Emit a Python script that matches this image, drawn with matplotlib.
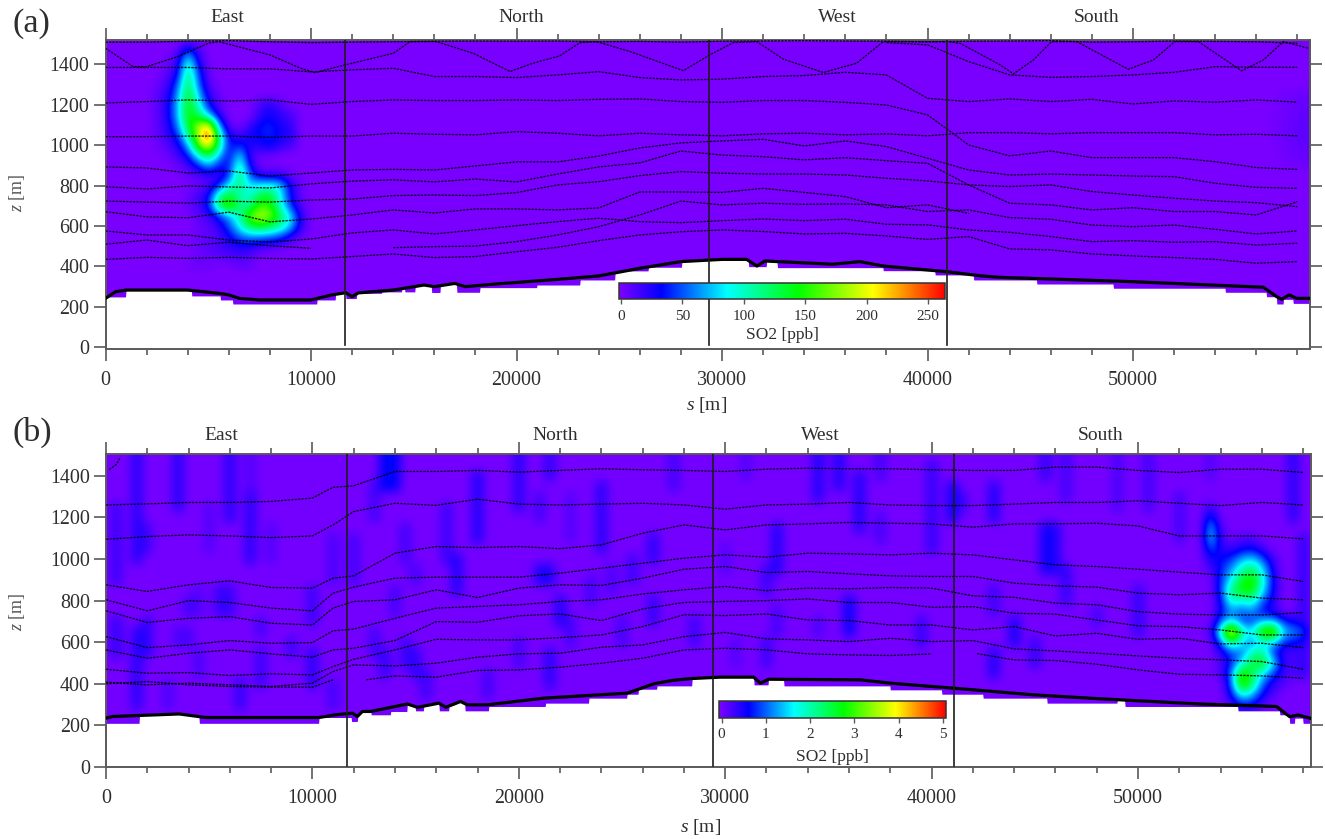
import numpy as np
import matplotlib
matplotlib.use("Agg")
import matplotlib.pyplot as plt
from matplotlib.colors import LinearSegmentedColormap, Normalize
from matplotlib.cm import ScalarMappable
from matplotlib.ticker import MultipleLocator

plt.rcParams['font.family'] = ['Liberation Serif', 'DejaVu Serif']
plt.rcParams['mathtext.fontset'] = 'custom'
plt.rcParams['mathtext.it'] = 'Liberation Serif:italic'
plt.rcParams['mathtext.rm'] = 'Liberation Serif'

W, H = 1325, 839
nan = float('nan')

section_names = ['East', 'North', 'West', 'South']
a_section_label_s = [5910, 20220, 35600, 48250]
b_section_label_s = [5570, 21750, 34590, 48200]
a_section_bounds = [11660, 29370, 40950]
b_section_bounds = [11660, 29400, 41080]

# ---------- panel (a) terrain ----------
a_ter_s = [0, 500, 1000, 4000, 5500, 6000, 6500, 7500, 10000, 11000, 11700, 12000, 12300, 14000, 15500, 16000,
           17000, 17500, 19000, 22000, 24000, 26000, 28000, 30000, 31200, 31700, 32090, 35400, 36700, 37850,
           40930, 42550, 43500, 49850, 56340, 57000, 57230, 57600, 57960, 58600]
a_ter_z = [241, 274, 282, 282, 266, 258, 241, 233, 233, 258, 269, 249, 268, 282, 307, 299,
           315, 299, 312, 335, 352, 390, 423, 434, 434, 401, 426, 410, 423, 401,
           373, 353, 345, 324, 296, 249, 236, 258, 241, 241]
a_step_s = [0, 1000, 4200, 5600, 6200, 10300, 11200, 11700, 12220, 13440, 14410, 14575, 15060, 15870, 16280, 17090,
            18220, 20980, 23090, 24790, 26410, 28030, 31280, 32170, 32690, 37850, 40365, 42230, 45310, 49040,
            54480, 56500, 56990, 57310, 57800]
a_step_z = [248, 300, 253, 233, 213, 233, 270, 240, 266, 273, 320, 273, 320, 270, 320, 271,
            294, 307, 332, 377, 395, 440, 398, 440, 393, 378, 357, 332, 312, 291,
            271, 249, 213, 236, 216]

# ---------- panel (a) plume block (ppb) ----------
a_block_s = [2500, 3000, 3500, 4000, 4500, 5000, 5500, 6000, 6500, 7000, 7500, 8000, 8500, 9000, 9500]
a_block_z = [1500, 1450, 1400, 1350, 1300, 1250, 1200, 1150, 1100, 1050, 1000, 950, 900, 850, 800, 750, 700, 650,
             600, 550, 500, 450, 400]
a_block_v = [
    [0, 0, 0, 15, 5, 0, 0, 0, 0, 0, 0, 0, 0, 0, 0],
    [0, 0, 10, 70, 15, 0, 0, 0, 0, 0, 0, 0, 0, 0, 0],
    [0, 5, 20, 110, 30, 0, 0, 0, 0, 0, 0, 0, 0, 0, 0],
    [0, 8, 30, 125, 45, 5, 0, 0, 0, 0, 0, 0, 0, 0, 0],
    [5, 15, 50, 135, 55, 10, 0, 0, 0, 0, 0, 0, 0, 0, 0],
    [8, 20, 65, 145, 75, 20, 5, 0, 0, 0, 0, 0, 0, 0, 0],
    [8, 25, 72, 150, 95, 35, 8, 0, 0, 0, 15, 25, 10, 0, 0],
    [8, 25, 72, 150, 125, 70, 20, 0, 0, 0, 20, 30, 20, 15, 0],
    [8, 22, 60, 140, 175, 215, 60, 5, 0, 15, 35, 40, 25, 20, 0],
    [6, 18, 40, 110, 190, 265, 110, 25, 15, 30, 35, 40, 30, 25, 0],
    [4, 10, 25, 70, 165, 215, 115, 30, 40, 25, 25, 35, 20, 15, 0],
    [0, 5, 15, 35, 95, 130, 75, 25, 85, 15, 5, 5, 0, 0, 0],
    [0, 0, 5, 15, 40, 70, 35, 35, 110, 30, 0, 0, 0, 0, 0],
    [0, 0, 0, 5, 10, 15, 15, 40, 130, 50, 20, 20, 20, 5, 0],
    [0, 0, 0, 0, 5, 10, 40, 90, 120, 80, 90, 90, 80, 25, 5],
    [0, 0, 0, 5, 15, 30, 110, 140, 100, 95, 130, 140, 85, 30, 5],
    [0, 0, 0, 5, 15, 35, 130, 175, 115, 110, 160, 150, 95, 40, 8],
    [0, 0, 0, 0, 8, 15, 40, 70, 100, 170, 190, 175, 125, 80, 20],
    [0, 0, 0, 0, 5, 8, 20, 50, 90, 130, 145, 130, 110, 75, 20],
    [0, 0, 0, 0, 5, 8, 12, 30, 55, 65, 65, 60, 50, 25, 5],
    [0, 0, 0, 0, 5, 10, 15, 20, 25, 25, 15, 10, 5, 0, 0],
    [0, 0, 0, 0, 5, 5, 8, 12, 15, 10, 0, 0, 0, 0, 0],
    [0, 0, 0, 3, 5, 3, 0, 0, 5, 5, 0, 0, 0, 0, 0],
]
a_edge_s = [56500, 57000, 57500, 58000, 58500]
a_edge_z = [1250, 1200, 1150, 1100, 1050, 1000, 950, 900]
a_edge_v = [
    [0, 2, 3, 4, 5], [0, 2, 3, 5, 7], [1, 2, 4, 6, 8], [1, 3, 4, 7, 9],
    [1, 3, 5, 7, 9], [0, 2, 4, 6, 8], [0, 1, 3, 5, 6], [0, 1, 2, 3, 4],
]

# ---------- panel (a) dashed profiles ----------
node_a = list(range(0, 58001, 2000))
a_top = [1510, 1510, 1515, 1518, 1512, 1508, 1510, 1512, 1515, 1516, 1515, 1516, 1512, 1514, 1510, 1515, 1516, 1518,
         1516, 1515, 1512, 1515, 1516, 1518, 1510, 1512, 1516, 1514, 1512, 1505]
a_l1 = [1385, 1385, 1385, 1378, 1378, 1363, 1373, 1381, 1340, 1340, 1335, 1348, 1364, 1335, 1323, 1327, 1340, 1345,
        1361, 1348, 1232, 1216, 1229, 1216, 1227, 1204, 1219, 1213, 1224, 1213]
a_l2 = [1209, 1216, 1224, 1219, 1224, 1202, 1216, 1224, 1221, 1221, 1224, 1221, 1227, 1229, 1216, 1212, 1221, 1221,
        1212, 1199, 1150, 1001, 947, 971, 938, 938, 938, 918, 889, 880]
a_l3 = [1042, 1042, 1045, 1045, 1039, 1045, 1045, 1059, 1054, 1051, 1067, 1059, 1046, 1059, 1051, 1046, 1056, 1059,
        1051, 1056, 1046, 1062, 1062, 1056, 1062, 1062, 1062, 1051, 1054, 1046]
a_l4 = [892, 887, 862, 872, 847, 862, 877, 880, 877, 897, 917, 917, 946, 986, 1011, 1021, 1029, 996,
        1021, 993, 935, 877, 852, 857, 852, 847, 844, 811, 791, 786]
a_l5 = [794, 783, 798, 793, 788, 808, 822, 828, 818, 832, 818, 857, 892, 912, 971, 951, 943, 927,
        938, 923, 910, 803, 712, 704, 679, 690, 671, 671, 654, 720]
a_l6 = [723, 718, 713, 722, 718, 728, 733, 750, 753, 750, 765, 803, 819, 849, 869, 861, 857, 857,
        852, 836, 823, 803, 795, 803, 770, 753, 737, 723, 715, 695]
a_l7 = [670, 645, 640, 668, 620, 634, 654, 679, 664, 684, 684, 679, 689, 768, 768, 766, 786, 766,
        745, 690, 704, 662, nan, nan, nan, nan, nan, nan, nan, nan]
a_l8 = [509, 530, 502, 519, 502, 489, nan, 492, 497, 500, 522, 555, 596, 654, 723, 704, 712, 707,
        709, 704, 671, 679, 641, 633, 604, 596, 604, 583, 560, 575]
a_l9 = [575, 555, 555, 530, 520, 535, 565, 580, 560, 580, 601, 621, 638, 621, 616, 626, 634, 626,
        633, 608, 605, 580, 568, 547, 522, 527, 519, 522, 505, 514]
a_l10 = [434, 444, 439, 444, 439, 436, 448, 461, 443, 448, 472, 494, 527, 555, 571, 580, 572, 560,
         563, 550, 533, 547, 486, 481, 461, 451, 443, 434, 415, 423]
a_r1 = [nan] * 19 + [1508, 1497, 1414, 1348, 1336, 1340, 1348, 1361, 1389, 1386, 1386]
a_v_s = [0, 1350, 2000, 3500, 5000, 5500, 8000, 9500, 10200, 11000, 12000, 14000, 14820, 16100, 17900, 19680, 20800,
         22100, 23090, 23900, 25520, 28120, 29400, 30550, 31690, 32985, 34930, 36550, 37850, 40930, 41580, 43530,
         44180, 45150, 46040, 47260, 49770, 50990, 52040, 53180, 55290, 56340, 57320, 58530]
a_v_z = [1480, 1389, 1389, 1438, 1505, 1513, 1447, 1381, 1359, 1381, 1406, 1455, 1513, 1513, 1455, 1365, 1406,
         1442, 1508, 1513, 1464, 1369, 1447, 1508, 1513, 1426, 1360, 1406, 1513, 1513, 1505, 1398,
         1353, 1422, 1513, 1513, 1376, 1422, 1513, 1513, 1368, 1422, 1513, 1480]

# ---------- panel (b) terrain ----------
b_ter_s = [0, 320, 3550, 4840, 10320, 11130, 11940, 12180, 12420, 12827, 14600, 15090, 16130, 16460, 17180, 17500,
           18470, 21200, 25250, 26540, 27420, 28310, 29760, 31380, 31700, 32100, 36540, 38000, 41060, 44930, 48150,
           53000, 56710, 57350, 57760, 58360]
b_ter_z = [235, 243, 255, 238, 238, 251, 259, 243, 267, 267, 303, 287, 307, 287, 315, 299,
           299, 331, 355, 400, 416, 425, 432, 432, 403, 422, 419, 403, 379, 347, 328,
           303, 291, 242, 250, 234]
b_step_s = [0, 1613, 4516, 10320, 11900, 12200, 12827, 13800, 14600, 15000, 15400, 16130, 16620, 17400, 18550, 21300,
            23400, 25250, 25800, 26700, 28400, 31380, 32100, 32830, 38000, 40500, 42500, 45600, 49000, 49370, 54850,
            56870, 57350, 57600, 58000]
b_step_z = [210, 280, 210, 238, 219, 280, 251, 267, 320, 270, 320, 270, 320, 270, 291, 307,
            331, 350, 374, 390, 440, 395, 440, 390, 371, 350, 331, 307, 320, 291, 270,
            251, 210, 235, 210]

# ---------- panel (b) hot block (ppb) ----------
b_block_s = [53000, 53500, 54000, 54500, 55000, 55500, 56000, 56500, 57000, 57500, 58000]
b_block_z = [1250, 1200, 1150, 1100, 1050, 1000, 950, 900, 850, 800, 750, 700, 650, 600, 550, 500, 450, 400, 350, 300]
b_block_v = [
    [0, .3, 0, 0, 0, 0, 0, 0, 0, 0, 0],
    [0, .9, 0, 0, 0, 0, 0, 0, 0, 0, 0],
    [0, 1.4, .2, 0, 0, 0, 0, 0, 0, 0, 0],
    [0, 1.5, .3, 0, .2, .2, 0, 0, 0, 0, 0],
    [0, 1.0, .4, .3, .5, .6, .3, 0, 0, 0, 0],
    [0, .5, .6, .8, 1.3, 1.5, 1.0, .3, 0, 0, 0],
    [0, .2, .7, 1.2, 2.0, 2.4, 1.6, .5, 0, 0, 0],
    [0, 0, .8, 1.6, 2.6, 3.0, 1.9, .6, 0, 0, 0],
    [0, 0, .8, 2.3, 2.8, 2.9, 1.6, .6, 0, 0, 0],
    [0, 0, .6, 2.0, 1.7, 2.0, 1.0, .5, 0, 0, 0],
    [0, 0, .5, 1.2, .9, 1.2, .6, .4, 0, 0, 0],
    [0, 0, 1.0, 1.6, .9, .8, 1.3, 1.4, .8, .5, .3],
    [0, .2, 1.9, 4.7, 2.1, 1.6, 3.3, 3.8, 1.5, 1.2, .9],
    [0, 0, 1.0, 2.4, 1.6, 1.0, 1.6, 1.5, .8, .6, .5],
    [0, 0, .3, .9, 1.0, 2.0, 2.2, .8, .3, .2, .2],
    [0, 0, .2, .7, 1.6, 2.5, 2.8, 1.7, .4, .2, 0],
    [0, 0, .2, 1.0, 3.2, 2.4, 1.6, .9, .3, .2, 0],
    [0, 0, 0, .9, 3.3, 2.4, 1.0, .4, .2, 0, 0],
    [0, 0, 0, .6, 1.8, 1.4, .6, .2, 0, 0, 0],
    [0, 0, 0, .2, .7, .6, .2, 0, 0, 0, 0],
]

# ---------- panel (b) faint vertical streaks ----------
streak_s = [1500, 2000, 300, 300, 3700, 5900, 7000, 7000, 4850, 7750, 11100, 11900, 12900, 1400, 1900, 3900, 5500,
            6050, 4600, 3300, 3150, 4100, 4700, 8870, 9840, 10000, 7500, 6600, 11050, 7340,
            13500, 14000, 18150, 16600, 17200, 14600, 15200, 14200, 19900, 20800, 21500, 21150, 21650, 22100, 22700,
            23800, 22350, 26600, 25650, 24600, 26600, 23500, 25100, 28400, 27500, 13630, 15150, 14280, 15500, 18300,
            21500, 19900, 13150,
            32430, 32100, 34600, 35570, 36620, 37350, 39770, 41140, 41640, 42830, 42830, 45330, 45830, 46400, 36000,
            34360, 32670, 43960, 45010, 43000, 39600, 32030, 30650, 29930, 45730, 46620, 37670, 31220, 47830,
            50180, 49130, 50660, 52110, 57600, 58240, 53480]
streak_lo = [1000, 1050, 880, 560, 1250, 1220, 1010, 1280, 1060, 1010, 880, 920, 1200, 300, 560, 755, 755,
             755, 770, 580, 275, 580, 435, 530, 675, 420, 400, 290, 275, 660,
             1350, 1350, 1110, 980, 870, 1010, 890, 770, 1250, 1190, 1400, 920, 920, 675, 610,
             1030, 1120, 980, 900, 835, 690, 820, 610, 610, 1365, 470, 470, 500, 340, 355,
             400, 515, 560,
             965, 850, 1315, 1365, 1170, 1125, 1030, 1220, 1240, 1190, 770, 930, 950, 820, 630,
             630, 645, 580, 490, 435, 580, 490, 500, 965, 1410, 1320, 1400, 1410, 720,
             660, 1250, 1270, 1090, 1220, 450, 1380]
streak_hi = [1490, 1160, 1240, 720, 1490, 1490, 1280, 1490, 1270, 1150, 1080, 1120, 1360, 660, 675, 820, 850,
             850, 840, 640, 390, 640, 545, 625, 850, 565, 530, 400, 400, 710,
             1490, 1490, 1400, 1250, 1010, 1140, 955, 850, 1490, 1320, 1490, 960, 960, 800, 705,
             1330, 1280, 1125, 1010, 930, 800, 880, 705, 705, 1490, 545, 545, 595, 435, 465,
             530, 580, 660,
             1170, 965, 1490, 1490, 1380, 1220, 1445, 1350, 1320, 1365, 870, 1160, 1140, 930, 820,
             725, 740, 705, 595, 545, 675, 580, 595, 1060, 1490, 1490, 1490, 1490, 770,
             870, 1490, 1490, 1300, 1490, 1090, 1490]
streak_v = [.45, .3, .35, .4, .45, .45, .45, .2, .2, .2, .25, .3, .3, .45, .4, .3, .35,
            .35, .2, .25, .25, .25, .25, .35, .35, .45, .35, .4, .3, .3,
            .65, .65, .5, .35, .5, .3, .3, .3, .45, .3, .4, .5, .5, .5, .3,
            .45, .2, .45, .35, .25, .4, .3, .3, .35, .3, .4, .4, .35, .35, .3,
            .45, .3, .3,
            .5, .35, .5, .5, .5, .3, .4, .6, .3, .5, .35, .6, .45, .4, .65,
            .25, .3, .55, .4, .5, .4, .35, .2, .2, .4, .3, .3, .2, .3,
            .4, .25, .3, .3, .45, .4, .2]

# ---------- panel (b) dashed profiles ----------
node_b = [0, 2000, 4000, 6000, 8000, 10000, 11000] + list(range(12000, 58001, 2000))
b_l1 = [1260, 1265, 1272, 1272, 1277, 1293, 1345, 1352, 1421, 1421, 1426, 1418, 1426, 1434, 1429, 1426,
        1421, 1432, 1437, 1434, 1434, 1429, 1426, 1426, 1442, 1442, 1426, 1416, 1432, 1432, 1416]
b_l2 = [1095, 1108, 1116, 1111, 1103, 1111, 1164, 1228, 1268, 1258, 1288, 1264, 1260, 1264, 1268, 1260,
        1240, 1260, 1264, 1272, 1260, 1257, 1257, 1264, 1272, 1272, 1280, 1268, 1257, 1272, 1260]
b_l3 = [876, 844, 876, 895, 863, 860, 908, 919, 1028, 1060, 1055, 1060, 1050, 1068, 1124, 1164,
        1140, 1164, 1169, 1176, 1172, 1169, 1153, 1169, 1169, 1172, 1159, 1111, 1111, 1111, 1097]
b_l4 = [804, 751, 800, 791, 764, 751, 836, 865, 908, 913, 913, 913, 932, 956, 980, 1004,
        1020, 1009, 1028, 1025, 1020, 1028, 1020, 996, 972, 964, 951, 937, 924, 924, 892]
b_l5 = [751, 695, 715, 723, 691, 683, 764, 796, 804, 852, 815, 860, 876, 873, 908, 951,
        964, 935, 940, 929, 919, 916, 916, 884, 871, 865, 836, 828, 836, 812, 804]
b_l6 = [627, 574, 587, 608, 595, 598, 655, 663, 715, 764, 772, 780, 796, 804, 832, 852,
        868, 848, 860, 857, 863, 860, 823, 816, 788, 780, 747, 735, 731, 731, 743]
b_l7 = [563, 523, 547, 563, 544, 528, 563, 571, 608, 699, 696, 727, 736, 704, 760, 791,
        796, 800, 808, 791, 791, 768, 771, 739, 735, 707, 679, 675, 659, 635, 635]
b_l8 = [470, 451, 454, 440, 448, 443, 483, 518, 563, 614, 611, 611, 622, 635, 675, 732,
        728, 736, 707, 704, 683, 683, 659, 675, 630, 643, 614, 619, 592, 595, 574]
b_l9 = [408, 395, 403, 395, 387, 403, 459, 491, 486, 499, 528, 544, 547, 576, 587, 627,
        647, 616, 611, 603, 619, 603, 608, 568, 558, 547, 534, 523, 515, 507, 470]
b_l10 = [400, 411, 395, 387, 384, 384, 419, nan, 438, 432, 464, 467, 480, 499, 523, 563,
         571, 563, 544, 539, 536, 544, nan, 515, 512, 494, 467, 446, 443, 438, 427]
b_piece1_s, b_piece1_z = [12600, 14000], [419, 438]
b_piece2_s, b_piece2_z = [42200, 44000], [545, 515]
b_piece3_s, b_piece3_z = [150, 500, 700], [1430, 1455, 1490]

# ---------- colours ----------
cb_pos = [0, .13, .33, .55, .78, 1]
cb_col = ['#7f00ff', '#0000ff', '#00ffff', '#00ff00', '#ffff00', '#ff0000']
cmap = LinearSegmentedColormap.from_list('so2', list(zip(cb_pos, cb_col)), N=512)
a_ticks = [0, 50, 100, 150, 200, 250]
b_ticks = [0, 1, 2, 3, 4, 5]

GREY = '#5a5a5a'
TXT = '#2e2e2e'
grid_s = np.arange(0, 59501, 500)
grid_z = np.arange(0, 1551, 50)


def empty_grid():
    return np.zeros((len(grid_z), len(grid_s)))


def put_block(g, ss, zz, vv):
    for i, z in enumerate(zz):
        for j, s in enumerate(ss):
            r = int(round(z / 50))
            c = int(round(s / 500))
            g[r, c] = max(g[r, c], vv[i][j])


def add_axes_px(fig, l, r, t, b):
    return fig.add_axes([l / W, 1 - b / H, (r - l) / W, (b - t) / H])


fig = plt.figure(figsize=(W / 100, H / 100), dpi=100)


def panel(box, xlim, ylim, grid, vmin, vmax, ter_s, ter_z, step_s, step_z, profiles, bounds, low, label_s, cbox,
          ticks, lab_y, s_label_xy, tag, tag_y, zlabel_y):
    ax = add_axes_px(fig, *box)
    norm = Normalize(vmin, vmax)
    ax.imshow(grid, origin='lower', cmap=cmap, norm=norm, interpolation='bicubic', aspect='auto',
              extent=[-250, 59750, -25, 1575], zorder=1)
    # area under the model domain is blank
    ds = np.arange(0, 59001, 25.0)
    idx = np.searchsorted(step_s, ds, side='right') - 1
    floor = np.minimum(np.interp(ds, ter_s, ter_z), np.asarray(step_z)[idx])
    ax.fill_between(ds, -50, floor, color='white', lw=0, zorder=2)
    for s, z in profiles:
        ax.plot(s, z, color='black', lw=0.95, ls=(0, (1.8, 0.8)), alpha=0.85, zorder=3)
    ax.plot(ter_s, ter_z, color='black', lw=2.3, zorder=4, solid_joinstyle='round')
    for s in bounds:
        ax.plot([s, s], [low, ylim[1]], color='#1c1c1c', lw=1.2, zorder=5)
    ax.set_xlim(*xlim)
    ax.set_ylim(*ylim)
    ax.xaxis.set_major_locator(MultipleLocator(10000))
    ax.xaxis.set_minor_locator(MultipleLocator(2000))
    ax.yaxis.set_major_locator(MultipleLocator(200))
    ax.tick_params(axis='x', which='major', top=True, bottom=True, length=8.5, width=1.2, color=GREY,
                   labelsize=14.4, labelcolor=TXT, pad=7)
    ax.tick_params(axis='x', which='minor', top=True, bottom=True, length=4.5, width=1.2, color=GREY)
    ax.tick_params(axis='y', which='major', left=True, right=True, length=8.5, width=1.2, color=GREY,
                   labelsize=14.4, labelcolor=TXT, pad=3)
    ax.set_yticks([v for v in range(0, 1401, 200)])
    for sp in ax.spines.values():
        sp.set_color(GREY)
        sp.set_linewidth(1.4)
    top_px = box[2]
    for name, s in zip(section_names, label_s):
        ax.text(s, 1 + (tag_y[1]) / (box[3] - box[2]), name, transform=ax.get_xaxis_transform(), ha='center',
                va='center', fontsize=14, color=TXT)
    fig.text(s_label_xy[0] / W, 1 - s_label_xy[1] / H, r'$\mathit{s}$ [m]', fontsize=14, color=TXT, ha='center',
             va='center')
    fig.text(17 / W, 1 - zlabel_y / H, r'$\mathit{z}$ [m]', fontsize=13, color='#555555', rotation=90, ha='center',
             va='center')
    fig.text(13 / W, 1 - tag_y[0] / H, tag, fontsize=24.5, color=TXT, ha='left', va='center')
    # colour bar
    cax = add_axes_px(fig, *cbox)
    cax.set_zorder(10)
    cb = fig.colorbar(ScalarMappable(norm=norm, cmap=cmap), cax=cax, orientation='horizontal')
    cb.set_ticks(ticks)
    cb.ax.tick_params(length=3.5, width=1, color=GREY, labelsize=11, labelcolor=TXT, pad=4)
    cb.outline.set_edgecolor('#333333')
    cb.outline.set_linewidth(1.1)
    fig.text((cbox[0] + cbox[1]) / 2 / W + lab_y[1] / W, 1 - lab_y[0] / H, 'SO2 [ppb]', fontsize=12.5, color=TXT,
             ha='center', va='center')
    return ax


# panel (a)
a_grid = empty_grid()
put_block(a_grid, a_block_s, a_block_z, a_block_v)
put_block(a_grid, a_edge_s, a_edge_z, a_edge_v)
a_profiles = [(node_a, l) for l in (a_top, a_l1, a_l2, a_l3, a_l4, a_l5, a_l6, a_l7, a_l8, a_l9, a_l10, a_r1)]
a_profiles.append((a_v_s, a_v_z))
panel((105.5, 1310, 40, 349), (0, 58613), (-10, 1521), a_grid, -1.6, 263.6, a_ter_s, a_ter_z, a_step_s, a_step_z,
      a_profiles, a_section_bounds, 10, a_section_label_s, (619, 945, 282.7, 299.3), a_ticks, (335, 0), (707, 405),
      '(a)', (24, 22), 193)

# panel (b)
b_grid = empty_grid()
put_block(b_grid, b_block_s, b_block_z, b_block_v)
for s, lo, hi, v in zip(streak_s, streak_lo, streak_hi, streak_v):
    c = int(round(s / 500))
    r0, r1 = int(round(lo / 50)), int(round(hi / 50))
    b_grid[r0:r1 + 1, c] = np.maximum(b_grid[r0:r1 + 1, c], v)
b_grid[31:, :] = b_grid[30, :]
b_profiles = [(node_b, l) for l in (b_l1, b_l2, b_l3, b_l4, b_l5, b_l6, b_l7, b_l8, b_l9, b_l10)]
b_profiles += [(b_piece1_s, b_piece1_z), (b_piece2_s, b_piece2_z), (b_piece3_s, b_piece3_z)]
panel((106, 1310.5, 454, 767), (0, 58357), (0, 1505), b_grid, -0.06, 5.06, b_ter_s, b_ter_z, b_step_s, b_step_z,
      b_profiles, b_section_bounds, 5, b_section_label_s, (719, 945.7, 700.7, 718), b_ticks, (757, 0), (701, 827),
      '(b)', (432, 18), 612)

fig.savefig('out.png', dpi=100, facecolor='white')
